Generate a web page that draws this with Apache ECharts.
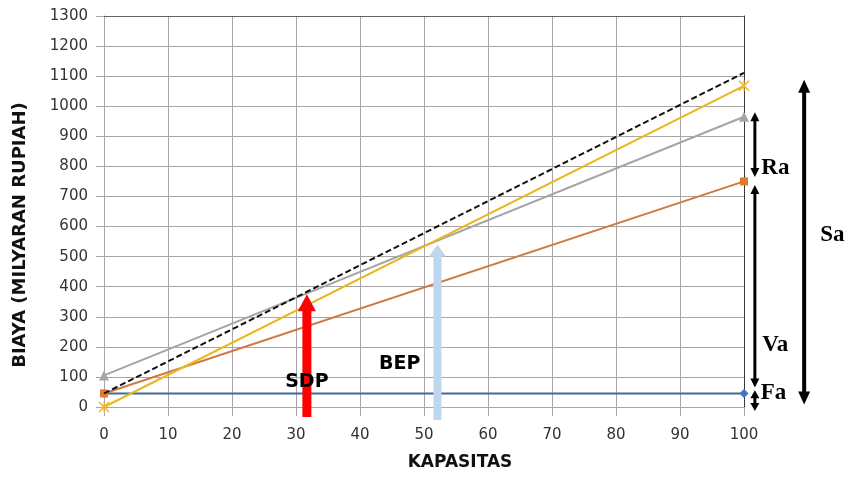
<!DOCTYPE html>
<html>
<head>
<meta charset="utf-8">
<script src="https://cdn.jsdelivr.net/npm/echarts@6/dist/echarts.min.js"></script>
<style>
html,body{margin:0;padding:0;background:#fff;}
#chart{width:853px;height:477px;}
</style>
</head>
<body>
<div id="chart"></div>
<script>
// ---- data ----
const capacity = [0, 100];
const fixedCost = [45, 45];          // Fa
const variableCost = [45, 750];      // Va
const totalCost = [105, 965];        // Ra (gray)
const sales = [0, 1068];             // Sa (yellow)
const dashedLine = [45, 1111];

const xTicks = [0, 10, 20, 30, 40, 50, 60, 70, 80, 90, 100];
const yTicks = [0, 100, 200, 300, 400, 500, 600, 700, 800, 900, 1000, 1100, 1200, 1300];

// vertical up-arrows (SDP, BEP)
const upArrowX = [31.7, 52.1];
const upArrowFrom = [-33, -43];
const upArrowTo = [375, 540];

// double arrows (Ra, Va, Fa, Sa)
const dblArrowX = [101.7, 101.7, 101.7, 109.4];
const dblArrowFrom = [765, 65, -13, 8];
const dblArrowTo = [980, 738, 56, 1088];

// annotation texts
const noteText = ['SDP', 'BEP', 'Ra', 'Va', 'Fa', 'Sa'];
const noteX = [31.7, 46.2, 104.9, 104.9, 104.6, 113.8];
const noteY = [83, 143, 795, 206, 47, 572];

// ---- styles ----
const gridColor = '#A6A6A6';
const upArrowColor = ['#FF0000', '#BDD7EE'];
const upArrowShape = [{w: 4.5, hw: 9, hh: 17}, {w: 4, hw: 8.5, hh: 12}];
const dblArrowShape = [
  {lw: 3, hw: 4.5, hh: 9}, {lw: 3, hw: 4.5, hh: 9}, {lw: 3, hw: 4.5, hh: 8}, {lw: 4, hw: 6, hh: 13}
];
const noteFont = [
  'bold 19px "DejaVu Sans"', 'bold 19px "DejaVu Sans"',
  'bold 23px "Liberation Serif"', 'bold 23px "Liberation Serif"',
  'bold 23px "Liberation Serif"', 'bold 23px "Liberation Serif"'
];

const starSymbol = 'path://M0,1L1,0L5,4L9,0L10,1L6,5L10,9L9,10L5,6L1,10L0,9L4,5Z M4.45,0L5.55,0L5.55,10L4.45,10Z';

function pairs(ys) { return capacity.map((x, i) => [x, ys[i]]); }

const chart = echarts.init(document.getElementById('chart'), null, {renderer: 'canvas'});

const option = {
  backgroundColor: '#fff',
  animation: false,
  grid: {left: 104, right: 109, top: 16, bottom: 70, containLabel: false},
  xAxis: [{
    type: 'value', min: 0, max: 100, interval: 10,
    axisLine: {show: true, onZero: false, lineStyle: {color: gridColor, width: 1}},
    axisTick: {show: true, length: 9, lineStyle: {color: gridColor}},
    axisLabel: {margin: 21, color: '#333', fontSize: 15, fontFamily: 'DejaVu Sans',
      formatter: v => xTicks.includes(v) ? String(v) : ''},
    splitLine: {show: true, lineStyle: {color: gridColor, width: 1}}
  }, {
    type: 'value', min: 0, max: 100, position: 'top',
    axisLine: {show: true, onZero: false, lineStyle: {color: '#555', width: 1, type: 'dotted'}},
    axisTick: {show: false}, axisLabel: {show: false}, splitLine: {show: false}
  }],
  yAxis: [{
    type: 'value', min: 0, max: 1300, interval: 100,
    axisLine: {show: true, onZero: false, lineStyle: {color: gridColor, width: 1}},
    axisTick: {show: true, length: 8, lineStyle: {color: gridColor}},
    axisLabel: {margin: 16, color: '#333', fontSize: 15, fontFamily: 'DejaVu Sans',
      formatter: v => yTicks.includes(v) ? String(v) : ''},
    splitLine: {show: true, lineStyle: {color: gridColor, width: 1}}
  }, {
    type: 'value', min: 0, max: 1300, position: 'right',
    axisLine: {show: true, onZero: false, lineStyle: {color: '#222', width: 1, type: 'dotted'}},
    axisTick: {show: false}, axisLabel: {show: false}, splitLine: {show: false}
  }],
  graphic: [{
    type: 'text', x: 20, y: 235, rotation: Math.PI / 2,
    style: {text: 'BIAYA (MILYARAN RUPIAH)', font: 'bold 18px "DejaVu Sans"', fill: '#111',
      textAlign: 'center', textVerticalAlign: 'middle'}
  }, {
    type: 'text', x: 460, y: 463,
    style: {text: 'KAPASITAS', font: 'bold 17px "DejaVu Sans"', fill: '#111',
      textAlign: 'center', textVerticalAlign: 'middle'}
  }],
  series: [
    {
      name: 'Fa', type: 'line', data: pairs(fixedCost), symbol: 'diamond', symbolSize: 9,
      lineStyle: {color: '#44689A', width: 2}, itemStyle: {color: '#4472C4'}, z: 2
    },
    {
      name: 'Va', type: 'line', data: pairs(variableCost), symbol: 'rect', symbolSize: 8,
      lineStyle: {color: '#D27840', width: 2}, itemStyle: {color: '#E4782F'}, z: 3
    },
    {
      name: 'Ra', type: 'line', data: pairs(totalCost), symbol: 'triangle', symbolSize: 10,
      lineStyle: {color: '#A5A5A5', width: 2}, itemStyle: {color: '#A5A5A5'}, z: 4
    },
    {
      name: 'Sa', type: 'line', data: pairs(sales), symbol: starSymbol, symbolSize: 11,
      lineStyle: {color: '#E8B820', width: 2}, itemStyle: {color: '#EDB928'}, z: 5
    },
    {
      name: 'garis', type: 'line', data: pairs(dashedLine), symbol: 'none',
      lineStyle: {color: '#111', width: 2, type: [6, 3]}, z: 6
    },
    {
      type: 'custom', z: 10, clip: false,
      data: upArrowX.map((x, i) => [x, upArrowFrom[i], upArrowTo[i]]),
      renderItem: function (params, api) {
        const i = params.dataIndex;
        const b = api.coord([api.value(0), api.value(1)]);
        const t = api.coord([api.value(0), api.value(2)]);
        const s = upArrowShape[i];
        const x = b[0];
        return {
          type: 'polygon',
          shape: {points: [
            [x - s.w, b[1]], [x - s.w, t[1] + s.hh], [x - s.hw, t[1] + s.hh], [x, t[1]],
            [x + s.hw, t[1] + s.hh], [x + s.w, t[1] + s.hh], [x + s.w, b[1]]
          ]},
          style: {fill: upArrowColor[i]}
        };
      }
    },
    {
      type: 'custom', z: 10, clip: false,
      data: dblArrowX.map((x, i) => [x, dblArrowFrom[i], dblArrowTo[i]]),
      renderItem: function (params, api) {
        const i = params.dataIndex;
        const b = api.coord([api.value(0), api.value(1)]);
        const t = api.coord([api.value(0), api.value(2)]);
        const s = dblArrowShape[i];
        const x = b[0];
        return {
          type: 'group',
          children: [{
            type: 'line',
            shape: {x1: x, y1: t[1] + s.hh - 1, x2: x, y2: b[1] - s.hh + 1},
            style: {stroke: '#000', lineWidth: s.lw}
          }, {
            type: 'polygon',
            shape: {points: [[x, t[1]], [x + s.hw, t[1] + s.hh], [x - s.hw, t[1] + s.hh]]},
            style: {fill: '#000'}
          }, {
            type: 'polygon',
            shape: {points: [[x, b[1]], [x + s.hw, b[1] - s.hh], [x - s.hw, b[1] - s.hh]]},
            style: {fill: '#000'}
          }]
        };
      }
    },
    {
      type: 'custom', z: 11, clip: false,
      data: noteX.map((x, i) => [x, noteY[i]]),
      renderItem: function (params, api) {
        const i = params.dataIndex;
        const p = api.coord([api.value(0), api.value(1)]);
        return {
          type: 'text', x: p[0], y: p[1],
          style: {text: noteText[i], font: noteFont[i], fill: '#000',
            textAlign: 'center', textVerticalAlign: 'middle'}
        };
      }
    }
  ]
};
chart.setOption(option);
</script>
</body>
</html>
